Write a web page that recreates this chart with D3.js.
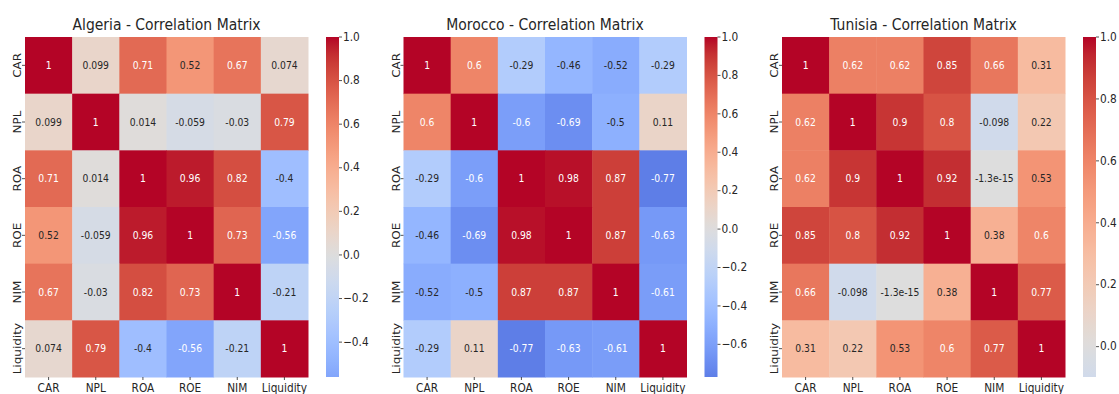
<!DOCTYPE html>
<html>
<head>
<meta charset="utf-8">
<script src="https://cdn.jsdelivr.net/npm/d3@7"></script>
<style>
  html, body { margin: 0; padding: 0; background: #ffffff; }
  svg { display: block; font-family: "DejaVu Sans", sans-serif; }
</style>
</head>
<body>
<svg id="chart" width="1119" height="394"></svg>
<script>
// ---- data ----
const variables = ["CAR", "NPL", "ROA", "ROE", "NIM", "Liquidity"];
const countries = ["Algeria", "Morocco", "Tunisia"];

const algeria = [
  [1, 0.099, 0.71, 0.52, 0.67, 0.074],
  [0.099, 1, 0.014, -0.059, -0.03, 0.79],
  [0.71, 0.014, 1, 0.96, 0.82, -0.4],
  [0.52, -0.059, 0.96, 1, 0.73, -0.56],
  [0.67, -0.03, 0.82, 0.73, 1, -0.21],
  [0.074, 0.79, -0.4, -0.56, -0.21, 1]
];
const morocco = [
  [1, 0.6, -0.29, -0.46, -0.52, -0.29],
  [0.6, 1, -0.6, -0.69, -0.5, 0.11],
  [-0.29, -0.6, 1, 0.98, 0.87, -0.77],
  [-0.46, -0.69, 0.98, 1, 0.87, -0.63],
  [-0.52, -0.5, 0.87, 0.87, 1, -0.61],
  [-0.29, 0.11, -0.77, -0.63, -0.61, 1]
];
const tunisia = [
  [1, 0.62, 0.62, 0.85, 0.66, 0.31],
  [0.62, 1, 0.9, 0.8, -0.098, 0.22],
  [0.62, 0.9, 1, 0.92, -1.3e-15, 0.53],
  [0.85, 0.8, 0.92, 1, 0.38, 0.6],
  [0.66, -0.098, -1.3e-15, 0.38, 1, 0.77],
  [0.31, 0.22, 0.53, 0.6, 0.77, 1]
];
const matrices = [algeria, morocco, tunisia];

// matplotlib "coolwarm" (Moreland) control colours
const coolwarmStops = [
  [59,76,192],[68,90,204],[77,104,215],[87,117,225],[98,130,234],[108,142,241],
  [119,154,247],[130,165,251],[141,176,254],[152,185,255],[163,194,255],[174,201,253],
  [184,208,249],[194,213,244],[204,217,238],[213,219,230],[221,221,221],[229,216,209],
  [236,211,197],[241,204,184],[245,196,172],[247,187,160],[247,177,148],[247,166,135],
  [244,154,123],[241,141,111],[236,127,99],[229,112,88],[222,96,77],[213,80,66],
  [203,62,56],[192,40,47],[180,4,38]
];

// ---- colour mapping (seaborn center=0 -> coolwarm over [-1, 1]) ----
const cmap = d3.scaleLinear()
  .domain(coolwarmStops.map((_, i) => i / (coolwarmStops.length - 1)))
  .range(coolwarmStops.map(c => `rgb(${c[0]},${c[1]},${c[2]})`))
  .interpolate(d3.interpolateRgb)
  .clamp(true);
const norm = d3.scaleLinear().domain([-1, 1]).range([0, 1]);
const colorOf = v => cmap(norm(v));

function luminance(col) {
  const c = d3.rgb(col);
  const lin = x => { x /= 255; return x <= 0.03928 ? x / 12.92 : Math.pow((x + 0.055) / 1.055, 2.4); };
  return 0.2126 * lin(c.r) + 0.7152 * lin(c.g) + 0.0722 * lin(c.b);
}

const annotLocale = d3.formatLocale({decimal: ".", thousands: ",", grouping: [3], currency: ["", ""], minus: "-"});
const annotFmt = annotLocale.format(".2~g");
const cbFmt = d3.format(".1f");

// ---- layout ----
const svg = d3.select("#chart");
const hmW = 283, hmH = 340, hmTop = 37;
const panelLeft = i => 25 + i * 378.5;
const textDark = "#262626";
const sx = 0.88; // reference image is slightly squeezed horizontally

matrices.forEach((mat, pi) => {
  const x0 = panelLeft(pi);
  const g = svg.append("g").attr("transform", `translate(${x0},${hmTop})`);

  const x = d3.scaleBand().domain(variables).range([0, hmW]);
  const y = d3.scaleBand().domain(variables).range([0, hmH]);

  const cells = [];
  mat.forEach((row, r) => row.forEach((v, c) => cells.push({r, c, v})));

  g.selectAll("rect.cell").data(cells).join("rect")
    .attr("class", "cell")
    .attr("x", d => x(variables[d.c]))
    .attr("y", d => y(variables[d.r]))
    .attr("width", x.bandwidth() + 0.5)
    .attr("height", y.bandwidth() + 0.5)
    .attr("fill", d => colorOf(d.v));

  g.selectAll("text.annot").data(cells).join("text")
    .attr("class", "annot")
    .attr("transform", d => `translate(${x(variables[d.c]) + x.bandwidth() / 2},${y(variables[d.r]) + y.bandwidth() / 2}) scale(${sx},1)`)
    .attr("text-anchor", "middle")
    .attr("dominant-baseline", "central")
    .attr("font-size", 10.5)
    .attr("fill", d => luminance(colorOf(d.v)) > 0.408 ? textDark : "#ffffff")
    .text(d => annotFmt(d.v));

  // x axis
  const xa = g.append("g").attr("transform", `translate(0,${hmH})`);
  variables.forEach(v => {
    const cx = x(v) + x.bandwidth() / 2;
    xa.append("line").attr("x1", cx).attr("x2", cx).attr("y1", 0).attr("y2", 3)
      .attr("stroke", textDark).attr("stroke-width", 0.8);
    xa.append("text").attr("transform", `translate(${cx},15) scale(${sx},1)`).attr("text-anchor", "middle")
      .attr("font-size", 12).attr("fill", textDark).text(v);
  });
  // y axis
  const ya = g.append("g");
  variables.forEach(v => {
    const cy = y(v) + y.bandwidth() / 2;
    ya.append("line").attr("x1", -3).attr("x2", 0).attr("y1", cy).attr("y2", cy)
      .attr("stroke", textDark).attr("stroke-width", 0.8);
    ya.append("text").attr("transform", `translate(-4,${cy}) scale(${sx},1) rotate(-90)`)
      .attr("text-anchor", "middle").attr("font-size", 12).attr("fill", textDark).text(v);
  });

  // title
  g.append("text").attr("transform", `translate(${hmW / 2},-7) scale(0.9,1)`).attr("text-anchor", "middle")
    .attr("font-size", 15.5).attr("fill", textDark).text(`${countries[pi]} - Correlation Matrix`);

  // colorbar
  const flat = mat.flat();
  const vmin = d3.min(flat), vmax = d3.max(flat);
  const cbX = hmW + 18, cbW = 13;
  const cbScale = d3.scaleLinear().domain([vmin, vmax]).range([hmH, 0]);
  const gradId = `grad${pi}`;
  const grad = svg.append("defs").append("linearGradient").attr("id", gradId)
    .attr("x1", 0).attr("y1", 1).attr("x2", 0).attr("y2", 0);
  d3.range(0, 41).forEach(k => {
    const t = k / 40;
    const v = vmin + t * (vmax - vmin);
    grad.append("stop").attr("offset", t).attr("stop-color", colorOf(v));
  });
  const cb = g.append("g").attr("transform", `translate(${cbX},0)`);
  cb.append("rect").attr("width", cbW).attr("height", hmH).attr("fill", `url(#${gradId})`);
  cbScale.ticks(6).forEach(t => {
    const ty = cbScale(t);
    cb.append("line").attr("x1", cbW).attr("x2", cbW + 3).attr("y1", ty).attr("y2", ty)
      .attr("stroke", textDark).attr("stroke-width", 0.8);
    cb.append("text").attr("transform", `translate(${cbW + 4},${ty}) scale(${sx},1)`).attr("dominant-baseline", "central")
      .attr("font-size", 12).attr("fill", textDark).text(cbFmt(t));
  });
});
</script>
</body>
</html>
